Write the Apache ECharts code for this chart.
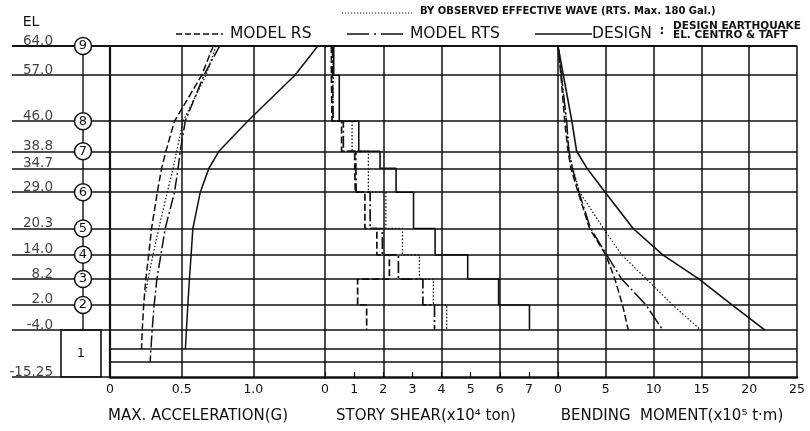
<!DOCTYPE html>
<html><head><meta charset="utf-8">
<script src="https://cdn.jsdelivr.net/npm/echarts@6/dist/echarts.min.js"></script>
<style>html,body{margin:0;padding:0;background:#fff}#c{width:810px;height:431px}</style>
</head><body><div id="c"></div>
<script>
// ---------- DATA ----------
const elevLevels = [64.0, 57.0, 46.0, 38.8, 34.7, 29.0, 20.3, 14.0, 8.2, 2.0, -4.0, -15.25];
const elevLabels = ['64.0', '57.0', '46.0', '38.8', '34.7', '29.0', '20.3', '14.0', '8.2', '2.0', '-4.0', '-15.25'];
const basementLevels = [-8.6, -11.7];
const floorEls = [64.0, 46.0, 38.8, 29.0, 20.3, 14.0, 8.2, 2.0];
const floorNums = ['9', '8', '7', '6', '5', '4', '3', '2'];
const baseFloorLabel = '1';

// Max acceleration (G)
const accRSEl   = [64.0, 57.0, 46.0, 38.8, 34.7, 29.0, 20.3, 14.0, 8.2, 2.0, -4.0, -8.6];
const accRS     = [0.72, 0.64, 0.45, 0.39, 0.36, 0.33, 0.29, 0.27, 0.25, 0.235, 0.225, 0.22];
const accRTSEl  = [64.0, 57.0, 46.0, 38.8, 34.7, 29.0, 20.3, 14.0, 8.2, 2.0, -4.0, -11.7];
const accRTS    = [0.765, 0.655, 0.525, 0.49, 0.475, 0.45, 0.385, 0.355, 0.327, 0.308, 0.294, 0.28];
const accObsEl  = [64.0, 57.0, 46.0, 38.8, 34.7, 29.0, 20.3, 14.0, 8.2, 5.0];
const accObs    = [0.74, 0.67, 0.51, 0.465, 0.44, 0.40, 0.34, 0.30, 0.265, 0.25];
const accDesEl  = [64.0, 57.0, 46.0, 38.8, 34.7, 29.0, 20.3, 14.0, 8.2, 2.0, -4.0, -8.6];
const accDes    = [1.45, 1.29, 0.96, 0.76, 0.69, 0.63, 0.578, 0.566, 0.554, 0.543, 0.533, 0.526];

// Story shear (x10^4 ton), per story
const storyTop  = [64.0, 57.0, 46.0, 38.8, 34.7, 29.0, 20.3, 14.0, 8.2, 2.0];
const storyBot  = [57.0, 46.0, 38.8, 34.7, 29.0, 20.3, 14.0, 8.2, 2.0, -4.0];
const shearRS   = [0.22, 0.24, 0.57, 1.02, 1.04, 1.37, 1.78, 2.21, 1.12, 1.43];
const shearRTS  = [0.26, 0.28, 0.63, 1.06, 1.07, 1.55, 1.97, 2.52, 3.36, 3.76];
const shearObs  = [0.28, 0.26, 0.93, 1.49, 1.49, 2.09, 2.66, 3.24, 3.72, 4.18];
const shearDes  = [0.30, 0.49, 1.16, 1.89, 2.44, 3.04, 3.78, 4.90, 5.96, 7.02];

// Bending moment (x10^5 t.m)
const bendEl     = [64.0, 57.0, 46.0, 38.8, 34.7, 29.0, 20.3, 14.0, 8.2, 2.0, -4.0];
const bendRS     = [0, 0.30, 0.70, 1.05, 1.35, 2.10, 3.30, 5.00, 5.95, 6.75, 7.35];
const bendRTS    = [0, 0.35, 0.90, 1.14, 1.50, 2.20, 3.40, 5.10, 6.66, 9.20, 10.96];
const bendObs    = [0, 0.35, 0.88, 1.15, 1.55, 2.27, 4.76, 6.66, 9.24, 12.00, 14.93];
const bendDes    = [0, 0.56, 1.45, 1.95, 3.04, 4.93, 7.86, 10.96, 14.76, 18.20, 21.65];

// Tick labels
const accTicks   = {0: '0', 0.5: '0.5', 1: '1.0'};
const shearTicks = ['0', '1', '2', '3', '4', '5', '6', '7'];
const bendTicks  = ['0', '5', '10', '15', '20', '25'];

// ---------- BUILD ----------
const INK = '#111111';
const F = 'DejaVu Sans';
const GW = 1.5;
const pairs = (xs, ys) => xs.map((x, i) => [x, ys[i]]);
const steps = vals => {
  const p = [];
  vals.forEach((v, i) => { p.push([v, storyTop[i]]); p.push([v, storyBot[i]]); });
  return p;
};
const DASH = [7, 3], DASHDOT = [12, 3, 2, 3], DOT = [1.5, 2];
const Y = {min: -15.25, max: 64};
const gridBase = {top: 46, bottom: 54};

const hLines = [];
elevLevels.forEach((el, i) => {
  const last = i === elevLevels.length - 1;
  hLines.push([{coord: [12, el], lineStyle: {width: (i === 0) ? 2.2 : GW, color: INK}},
               {coord: [last ? 110 : 797, el]}]);
});
basementLevels.forEach(el => hLines.push([{coord: [110, el]}, {coord: [797, el]}]));

function curve(name, xi, data, dash, w) {
  return {name, type: 'line', xAxisIndex: xi, yAxisIndex: xi, data, symbol: 'none',
    lineStyle: {color: INK, width: w || 1.5, type: dash}, z: 4, silent: true};
}
const axisLineX = {onZero: false, lineStyle: {color: INK, width: 2.6}};

const option = {
  animation: false,
  backgroundColor: '#ffffff',
  textStyle: {fontFamily: F},
  grid: [
    Object.assign({left: 0, right: 13}, gridBase),
    Object.assign({left: 110, width: 215}, gridBase),
    Object.assign({left: 325, width: 233}, gridBase),
    Object.assign({left: 558, right: 13}, gridBase)
  ],
  xAxis: [
    {type: 'value', gridIndex: 0, min: 0, max: 797, show: false},
    {type: 'value', gridIndex: 1, min: 0, max: 1.5, interval: 0.5,
      axisLine: axisLineX, axisTick: {show: false},
      splitLine: {show: true, lineStyle: {color: INK, width: GW}},
      axisLabel: {margin: 6, fontSize: 12.5, color: INK, fontFamily: F,
        formatter: v => (accTicks[v] !== undefined ? accTicks[v] : '')}},
    {type: 'value', gridIndex: 2, min: 0, max: 8, interval: 1,
      axisLine: axisLineX,
      axisTick: {show: true, inside: true, length: 5, lineStyle: {color: INK, width: 1.2}},
      splitLine: {show: false},
      axisLabel: {margin: 6, fontSize: 12.5, color: INK, fontFamily: F,
        formatter: v => (shearTicks[v] !== undefined ? shearTicks[v] : '')}},
    {type: 'value', gridIndex: 3, min: 0, max: 25, interval: 5,
      axisLine: axisLineX, axisTick: {show: false},
      splitLine: {show: true, lineStyle: {color: INK, width: GW}},
      axisLabel: {margin: 6, fontSize: 12.5, color: INK, fontFamily: F,
        formatter: v => bendTicks[v / 5]}}
  ],
  yAxis: [
    Object.assign({type: 'value', gridIndex: 0, show: false}, Y),
    Object.assign({type: 'value', gridIndex: 1, axisLine: {show: true, onZero: false, lineStyle: {color: INK, width: 2.2}},
      axisTick: {show: false}, axisLabel: {show: false}, splitLine: {show: false}}, Y),
    Object.assign({type: 'value', gridIndex: 2, show: false}, Y),
    Object.assign({type: 'value', gridIndex: 3, show: false}, Y)
  ],
  series: [
    {type: 'line', xAxisIndex: 0, yAxisIndex: 0, data: [[797, 64]], symbol: 'none', silent: true,
      lineStyle: {width: 0},
      markLine: {silent: true, symbol: ['none', 'none'], label: {show: false},
        lineStyle: {color: INK, width: GW, type: 'solid'}, data: hLines},
      markArea: {silent: true,
        data: [[{coord: [61, -4.0], itemStyle: {color: '#fff', borderColor: INK, borderWidth: 1.6},
                 label: {show: true, position: 'inside', formatter: baseFloorLabel, fontSize: 13, color: INK, fontFamily: F}},
                {coord: [101, -15.25]}]]}},
    {type: 'line', xAxisIndex: 0, yAxisIndex: 0, data: [[83, floorEls[0]], [83, -4.0]], symbol: 'none',
      silent: true, lineStyle: {color: INK, width: 1.4}},
    {type: 'scatter', xAxisIndex: 0, yAxisIndex: 0, z: 6, silent: true,
      data: floorEls.map(el => [83, el]), symbol: 'circle', symbolSize: 17,
      itemStyle: {color: '#fff', borderColor: INK, borderWidth: 1.5, opacity: 1},
      label: {show: true, position: 'inside', fontSize: 13, color: INK, fontFamily: F,
        formatter: p => floorNums[p.dataIndex]}},
    {type: 'scatter', xAxisIndex: 0, yAxisIndex: 0, z: 6, silent: true,
      data: elevLevels.map(el => [53, el]), symbolSize: 0,
      label: {show: true, position: 'left', distance: 0, offset: [0, -5], fontSize: 13.5, color: INK, fontFamily: F,
        formatter: p => elevLabels[p.dataIndex]}},

    curve('MODEL RS', 1, pairs(accRS, accRSEl), DASH),
    curve('MODEL RTS', 1, pairs(accRTS, accRTSEl), DASHDOT),
    curve('OBSERVED', 1, pairs(accObs, accObsEl), DOT, 1.2),
    curve('DESIGN', 1, pairs(accDes, accDesEl), 'solid'),

    Object.assign(curve('MODEL RS', 2, steps(shearRS), DASH, 1.7), {
      markLine: {silent: true, symbol: ['none', 'none'], label: {show: false},
        lineStyle: {color: INK, width: GW, type: 'solid'},
        data: [{xAxis: 2}, {xAxis: 4}, {xAxis: 6}]}}),
    curve('MODEL RTS', 2, steps(shearRTS), DASHDOT, 1.7),
    curve('OBSERVED', 2, steps(shearObs), DOT, 1.3),
    curve('DESIGN', 2, steps(shearDes), 'solid', 1.6),

    curve('MODEL RS', 3, pairs(bendRS, bendEl), DASH),
    curve('MODEL RTS', 3, pairs(bendRTS, bendEl), [16, 3, 2, 3]),
    curve('OBSERVED', 3, pairs(bendObs, bendEl), DOT, 1.2),
    curve('DESIGN', 3, pairs(bendDes, bendEl), 'solid', 1.6)
  ],
  graphic: [
    {type: 'text', style: {text: 'EL', x: 31, y: 22, align: 'center', verticalAlign: 'middle', fontSize: 14, fontFamily: F, fill: INK}},
    {type: 'line', shape: {x1: 342, y1: 13, x2: 413, y2: 13}, style: {stroke: INK, lineWidth: 1.1, lineDash: [1.2, 1.8]}},
    {type: 'text', style: {text: 'BY OBSERVED EFFECTIVE WAVE (RTS. Max. 180 Gal.)', x: 420, y: 11, align: 'left', verticalAlign: 'middle',
      fontSize: 10, fontWeight: 'bold', fontFamily: F, fill: INK}},
    {type: 'line', shape: {x1: 176, y1: 34, x2: 223, y2: 34}, style: {stroke: INK, lineWidth: 1.5, lineDash: [6, 3]}},
    {type: 'text', style: {text: 'MODEL RS', x: 230, y: 34, align: 'left', verticalAlign: 'middle', fontSize: 15.5, fontFamily: F, fill: INK}},
    {type: 'line', shape: {x1: 347, y1: 34, x2: 407, y2: 34}, style: {stroke: INK, lineWidth: 1.5, lineDash: [22, 5, 2, 5]}},
    {type: 'text', style: {text: 'MODEL RTS', x: 410, y: 34, align: 'left', verticalAlign: 'middle', fontSize: 15.5, fontFamily: F, fill: INK}},
    {type: 'line', shape: {x1: 535, y1: 34, x2: 592, y2: 34}, style: {stroke: INK, lineWidth: 1.5}},
    {type: 'text', style: {text: 'DESIGN', x: 592, y: 34, align: 'left', verticalAlign: 'middle', fontSize: 15.5, fontFamily: F, fill: INK}},
    {type: 'text', style: {text: ':', x: 662, y: 31, align: 'center', verticalAlign: 'middle', fontSize: 12, fontWeight: 'bold', fontFamily: F, fill: INK}},
    {type: 'text', style: {text: 'DESIGN EARTHQUAKE', x: 673, y: 26, align: 'left', verticalAlign: 'middle', fontSize: 10.5, fontWeight: 'bold', fontFamily: F, fill: INK}},
    {type: 'text', style: {text: 'EL. CENTRO & TAFT', x: 673, y: 35, align: 'left', verticalAlign: 'middle', fontSize: 10.5, fontWeight: 'bold', fontFamily: F, fill: INK}},
    {type: 'text', style: {text: 'MAX. ACCELERATION(G)', x: 198, y: 416, align: 'center', verticalAlign: 'middle', fontSize: 15, fontFamily: F, fill: INK}},
    {type: 'text', style: {text: 'STORY SHEAR(x10\u2074 ton)', x: 426, y: 416, align: 'center', verticalAlign: 'middle', fontSize: 15, fontFamily: F, fill: INK}},
    {type: 'text', style: {text: 'BENDING  MOMENT(x10\u2075 t\u00b7m)', x: 672, y: 416, align: 'center', verticalAlign: 'middle', fontSize: 15, fontFamily: F, fill: INK}}
  ]
};
const chart = echarts.init(document.getElementById('c'), null, {renderer: 'canvas'});
chart.setOption(option);
</script></body></html>
